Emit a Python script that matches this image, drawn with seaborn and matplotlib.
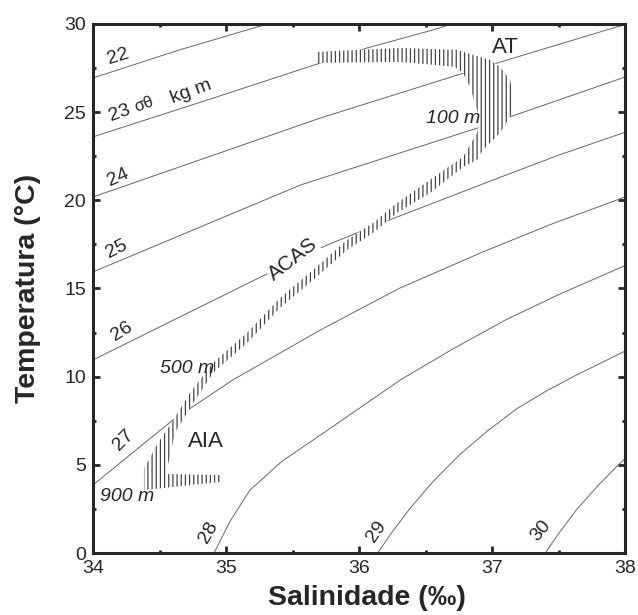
import numpy as np
import pandas as pd
import seaborn as sns
import matplotlib.pyplot as plt
from matplotlib.ticker import MultipleLocator

# isopycnals (sigma-theta): salinity / temperature pairs
levels = [22, 23, 24, 25, 26, 27, 28, 29, 30]
sig22_s = [34.0, 34.65, 35.31]
sig22_t = [26.94, 28.53, 30.0]
sig23_s = [34.0, 34.86, 35.71, 36.06, 36.56, 36.70]
sig23_t = [23.6, 25.69, 27.79, 28.64, 29.67, 30.0]
sig24_s = [34.0, 35.71, 36.78, 37.04, 37.94, 38.0]
sig24_t = [20.19, 24.67, 27.2, 27.79, 29.84, 29.95]
sig25_s = [34.0, 35.56, 36.89, 37.16, 37.98, 38.0]
sig25_t = [15.94, 20.87, 24.1, 24.8, 26.94, 26.98]
sig26_s = [34.0, 35.26, 35.76, 36.23, 37.01, 37.5, 38.0]
sig26_t = [10.95, 15.65, 17.47, 18.89, 21.16, 22.56, 23.86]
sig27_s = [34.0, 34.60, 35.05, 35.71, 36.30, 36.93, 37.45, 37.94, 38.0]
sig27_t = [3.86, 7.54, 9.81, 12.65, 15.0, 17.07, 18.66, 20.02, 20.2]
sig28_s = [34.91, 35.03, 35.18, 35.42, 35.71, 36.31, 36.70, 37.11, 37.50, 38.0]
sig28_t = [0.0, 1.8, 3.57, 5.2, 6.69, 9.81, 11.55, 13.25, 14.65, 16.3]
sig29_s = [36.14, 36.24, 36.38, 36.55, 36.76, 36.97, 37.19, 37.40, 37.61, 38.0]
sig29_t = [0.0, 1.1, 2.5, 4.0, 5.6, 6.95, 8.2, 9.15, 10.0, 11.45]
sig30_s = [37.40, 37.50, 37.64, 37.80, 37.95, 38.0]
sig30_t = [0.0, 1.1, 2.5, 3.85, 5.0, 5.35]

# outline of the hatched T-S envelope (AT / ACAS / AIA)
band_s = [34.383, 34.383, 34.429, 34.466, 34.504, 34.594, 34.729, 34.902, 35.158,
          35.406, 35.654, 35.910, 36.105, 36.286, 36.534, 36.782, 36.887, 36.910,
          36.887, 36.835, 36.782, 36.722, 36.308, 35.684, 35.684, 36.308, 36.737,
          36.857, 36.985, 37.060, 37.135, 37.158, 37.158, 37.135, 37.060, 36.985,
          36.932, 36.887, 36.782, 36.534, 36.286, 36.105, 35.910, 35.654, 35.406,
          35.158, 34.902, 34.729, 34.617, 34.549, 34.955, 34.955]
band_t = [3.57, 4.82, 5.39, 5.96, 6.41, 7.43, 9.08, 10.78, 12.48,
          14.46, 16.05, 17.75, 18.72, 19.85, 21.16, 22.46, 23.82, 24.56,
          25.13, 26.43, 27.23, 27.57, 27.85, 27.79, 28.42, 28.64, 28.53,
          28.25, 27.96, 27.57, 26.83, 25.86, 24.96, 24.73, 23.82, 23.26,
          22.86, 22.29, 21.89, 20.42, 19.29, 18.15, 17.19, 15.48, 13.90,
          11.91, 10.21, 8.22, 6.85, 4.48, 4.42, 4.03]

iso = pd.concat([
    pd.DataFrame({"S": s, "T": t, "level": lv})
    for lv, s, t in zip(levels,
                        [sig22_s, sig23_s, sig24_s, sig25_s, sig26_s, sig27_s, sig28_s, sig29_s, sig30_s],
                        [sig22_t, sig23_t, sig24_t, sig25_t, sig26_t, sig27_t, sig28_t, sig29_t, sig30_t])
])

sns.set_style("ticks")
plt.rcParams['font.family'] = ['Liberation Sans', 'DejaVu Sans']
plt.rcParams['hatch.linewidth'] = 0.9

fig = plt.figure(figsize=(6.38, 6.15), dpi=100)
ax = fig.add_axes([0.1458, 0.1008, 0.8339, 0.8602])

sns.lineplot(data=iso, x="S", y="T", units="level", estimator=None, sort=False,
             color="#666666", lw=0.7, ax=ax, zorder=2)

ax.fill(band_s, band_t, facecolor="white", edgecolor="#444444", hatch="||||",
        lw=0, zorder=3)

# isopycnal labels
lab_kw = dict(fontsize=14, ha="center", va="center", zorder=5)
ax.text(34.19, 28.13, "22", rotation=17, **lab_kw)
ax.text(34.20, 24.96, "23", rotation=20, **lab_kw)
ax.text(34.38, 25.45, "σθ", rotation=20, fontsize=12, ha="center", va="center")
ax.text(34.74, 26.15, "kg m", rotation=20, **lab_kw)
ax.text(34.19, 21.27, "24", rotation=24, **lab_kw)
ax.text(34.18, 17.24, "25", rotation=27, **lab_kw)
ax.text(34.22, 12.59, "26", rotation=32, **lab_kw)
ax.text(34.23, 6.41, "27", rotation=45, **lab_kw)
ax.text(34.87, 1.19, "28", rotation=60, **lab_kw)
ax.text(36.13, 1.19, "29", rotation=55, **lab_kw)
ax.text(37.37, 1.25, "30", rotation=50, **lab_kw)

# water masses and depths
ax.text(35.50, 16.68, "ACAS", rotation=38, fontsize=15, ha="center", va="center",
        zorder=5, bbox=dict(facecolor="white", edgecolor="none", pad=0.5))
ax.text(37.10, 28.64, "AT", fontsize=16, ha="center", va="center", zorder=5)
ax.text(34.85, 6.35, "AIA", fontsize=16, ha="center", va="center", zorder=5)
dep_kw = dict(fontsize=14, style="italic", ha="center", va="center", zorder=5)
ax.text(36.71, 24.62, "100 m", **dep_kw)
ax.text(34.71, 10.49, "500 m", **dep_kw)
ax.text(34.26, 3.18, "900 m", **dep_kw)

ax.set_xlim(34, 38)
ax.set_ylim(0, 30)
ax.xaxis.set_major_locator(MultipleLocator(1))
ax.xaxis.set_minor_locator(MultipleLocator(0.5))
ax.yaxis.set_major_locator(MultipleLocator(5))
ax.yaxis.set_minor_locator(MultipleLocator(2.5))
ax.tick_params(which="both", direction="in", top=True, right=True, width=2,
               labelsize=14, pad=5)
ax.tick_params(which="major", length=5)
ax.tick_params(which="minor", length=2)
for sp in ax.spines.values():
    sp.set_linewidth(2.2)

ax.set_xlabel("Salinidade (‰)", fontsize=20.5, fontweight="bold", labelpad=6)
ax.xaxis.label.set_x(0.515)
ax.set_ylabel("Temperatura (°C)", fontsize=20.5, fontweight="bold", labelpad=17)

fig.savefig("out.png", dpi=100)
